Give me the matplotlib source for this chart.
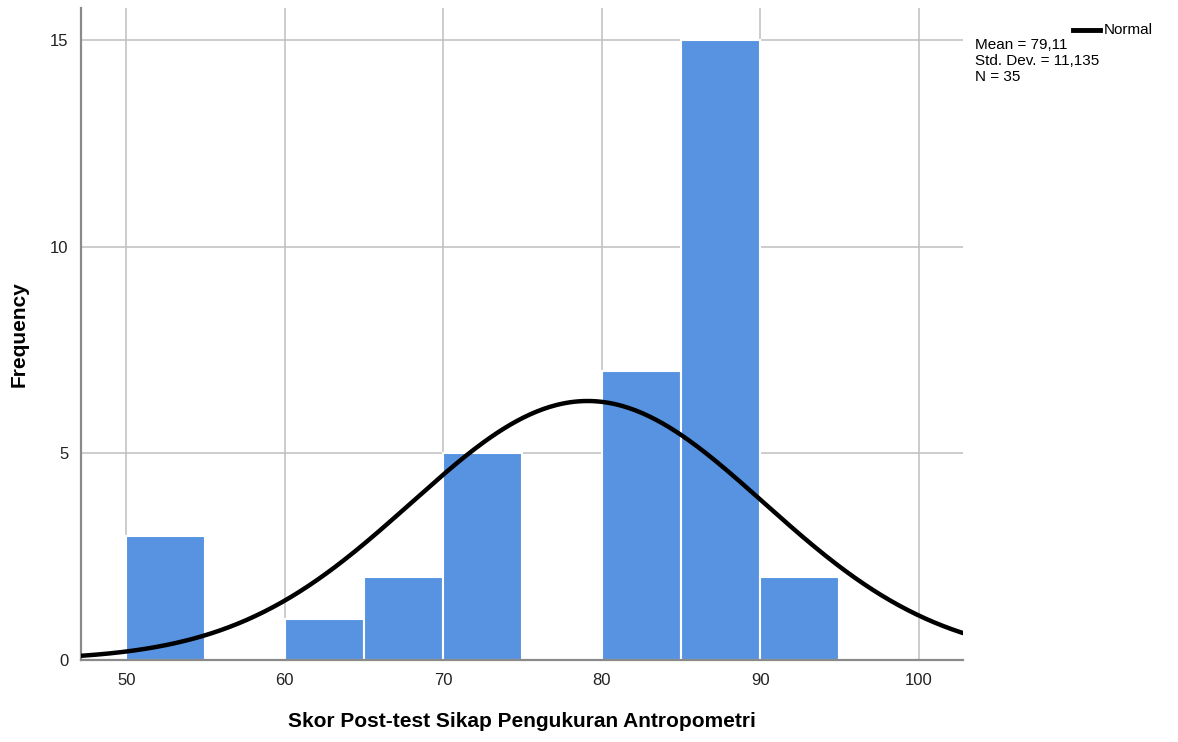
import numpy as np
import matplotlib.pyplot as plt

plt.rcParams['font.family'] = ['Liberation Sans', 'DejaVu Sans']

# histogram data (bin edges of width 5)
bin_edges = [50, 55, 60, 65, 70, 75, 80, 85, 90, 95]
counts = [3, 0, 1, 2, 5, 0, 7, 15, 2]
mean = 79.11
std = 11.135
n = 35

fig = plt.figure(figsize=(11.78, 7.42), dpi=100)
ax = fig.add_axes([0.0688, 0.1105, 0.7487, 0.8785])

widths = np.diff(bin_edges)
ax.bar(bin_edges[:-1], counts, width=widths, align='edge',
       color='#5793e1', edgecolor='white', linewidth=1.5, zorder=2)

xlim = (47.15, 102.8)
xs = np.linspace(xlim[0], xlim[1], 400)
ys = n * 5 / (std * np.sqrt(2 * np.pi)) * np.exp(-0.5 * ((xs - mean) / std) ** 2)
ax.plot(xs, ys, color='black', linewidth=3.2, zorder=3, solid_capstyle='round')

ax.set_xlim(*xlim)
ax.set_ylim(0, 15.78)
ax.set_xticks([50, 60, 70, 80, 90, 100])
ax.set_yticks([0, 5, 10, 15])
ax.grid(True, color='#bfbfbf', linewidth=1.1, zorder=0)
ax.set_axisbelow(True)
for s in ['top', 'right']:
    ax.spines[s].set_visible(False)
ax.spines['left'].set_color('#8a8a8a')
ax.spines['left'].set_linewidth(1.6)
ax.spines['bottom'].set_color('#8a8a8a')
ax.spines['bottom'].set_linewidth(1.6)
ax.tick_params(axis='both', length=0, labelsize=12, colors='#222222', pad=9)

ax.set_xlabel('Skor Post-test Sikap Pengukuran Antropometri', fontsize=15,
              fontweight='bold')
ax.set_ylabel('Frequency', fontsize=15, fontweight='bold')
ax.xaxis.set_label_coords(0.5, -0.08)
ax.yaxis.set_label_coords(-0.06, 0.5)

# legend and stats box
fig.lines.append(plt.Line2D([1073 / 1178, 1100 / 1178], [1 - 30 / 742, 1 - 30 / 742],
                            color='black', linewidth=3.5, transform=fig.transFigure))
fig.text(1104 / 1178, 1 - 30 / 742, 'Normal', fontsize=11, va='center', ha='left')
fig.text(975 / 1178, 1 - 38 / 742, 'Mean = 79,11\nStd. Dev. = 11,135\nN = 35',
         fontsize=11, va='top', ha='left', linespacing=1.2)

fig.savefig('out.png', dpi=100)
